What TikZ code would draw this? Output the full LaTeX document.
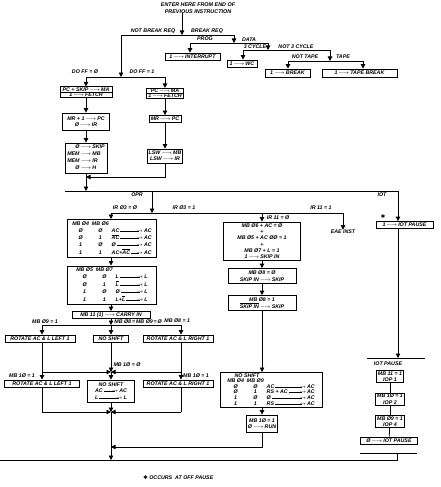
\documentclass[tikz,border=0pt]{standalone}
\usepackage{fontspec}
\setmainfont{Liberation Sans}
\newfontfamily\starfont{DejaVu Sans}
\usetikzlibrary{arrows.meta,shapes.multipart}
\newcommand{\goes}{\,$\longrightarrow$\,}
\newcommand{\arrfill}{\hskip1pt\leaders\hrule height 1.6pt depth -1.05pt\hfill\kern-3pt$\rightarrow$\hskip1pt}
\newcommand{\tfr}[3][40pt]{\hbox to #1{#2\arrfill#3}}
\newcommand{\nb}[1]{$\overline{\hbox{#1}}$}
\begin{document}
\begin{tikzpicture}[x=1pt,y=-1pt,line width=.8pt,
    blk/.style={draw, inner xsep=1.5pt, inner ysep=.8pt, align=center, font=\fontsize{5.3}{6.3}\selectfont\bfseries\itshape},
    tbl/.style={blk, font=\fontsize{5.3}{7}\selectfont\bfseries\itshape},
    lab/.style={inner sep=0pt, font=\fontsize{5.3}{6.3}\selectfont\bfseries\itshape},
    flow/.style={-{Triangle[width=4.5pt,length=4.5pt]}}]
    \useasboundingbox (0,0) rectangle (440,487);

    \node[lab, align=center, font=\fontsize{5.4}{6.3}\selectfont\bfseries\itshape] (0) at (198,8) {ENTER HERE FROM END OF\\PREVIOUS INSTRUCTION};
    \node[blk, minimum width=55pt, minimum height=7pt] (1) at (192.5,56.5) {1\goes INTERRUPT};
    \node[blk, minimum width=30pt, minimum height=7pt] (2) at (242,63.5) {1\goes WC};
    \node[blk, minimum width=45pt, minimum height=8pt] (3) at (287.5,73) {1\goes BREAK};
    \node[blk, minimum width=75pt, minimum height=8pt] (4) at (359.5,73) {1\goes TAPE BREAK};
    \node[blk, rectangle split, rectangle split parts=2, inner ysep=.3pt, minimum width=52pt] (5) at (86,92) {PC + SKIP\goes MA\nodepart{two}1\goes FETCH};
    \node[blk, rectangle split, rectangle split parts=2, inner ysep=.3pt, minimum width=32pt] (6) at (165,93.5) {PC\goes MA\nodepart{two}1\goes FETCH};
    \node[blk, minimum width=47pt, minimum height=17pt] (7) at (86,121.5) {MR + 1\goes PC\\Ø\goes IR};
    \node[blk, minimum width=32pt, minimum height=7pt] (8) at (165,119) {MR\goes PC};
    \node[tbl, minimum width=42pt, minimum height=30pt] (9) at (86,158) {\begin{tabular}{@{}r@{}l@{}}
        Ø\goes & SKIP\\ MEM\goes & MB\\ MEM\goes & IR\\ Ø\goes & H\end{tabular}};
    \node[blk, minimum width=32pt, minimum height=14pt] (10) at (165,156) {LSW\goes MB\\LSW\goes IR};
    \node[blk, minimum width=57pt, minimum height=7pt] (11) at (404.5,225) {1\goes IOT PAUSE};
    \node[tbl, minimum width=89pt, minimum height=37pt] (12) at (112,238.5) {\begin{tabular}{@{}c@{\ \ }c@{\ \ }l@{}}
        MB Ø4 & MB Ø6 & \\
        Ø & Ø & \tfr{AC}{AC}\\
        Ø & 1 & \tfr{\nb{AC}}{AC}\\
        1 & Ø & \tfr{Ø}{AC}\\
        1 & 1 & \tfr{AC+\nb{AC}}{AC}\end{tabular}};
    \node[blk, minimum width=77pt, minimum height=38pt] (13) at (262,241) {MB Ø6 + AC = Ø\\+\\MB Ø5 + AC ØØ = 1\\+\\MB Ø7 + L = 1\\1\goes SKIP IN};
    \node[lab] (14) at (343,232) {EAE INST};
    \node[tbl, minimum width=89pt, minimum height=36pt] (15) at (112,285) {\begin{tabular}{@{}c@{\ \ }c@{\ \ }l@{}}
        MB Ø5 & MB Ø7 & \\
        Ø & Ø & \tfr[32pt]{L}{L}\\
        Ø & 1 & \tfr[32pt]{\nb{L}}{L}\\
        1 & Ø & \tfr[32pt]{Ø}{L}\\
        1 & 1 & \tfr[32pt]{L+\nb{L}}{L}\end{tabular}};
    \node[blk, minimum width=68pt, minimum height=15pt] (16) at (262,276) {MB Ø8 = Ø\\SKIP IN\goes SKIP};
    \node[blk, minimum width=68pt, minimum height=15pt] (17) at (262,303) {MB Ø8 = 1\\\nb{SKIP IN}\goes SKIP};
    \node[blk, minimum width=78pt, minimum height=7pt] (18) at (111,315) {MB 11 (1)\goes CARRY IN};
    \node[blk, minimum width=70pt, minimum height=7pt] (19) at (40,338.5) {ROTATE AC \& L LEFT 1};
    \node[blk, minimum width=35pt, minimum height=7pt] (20) at (111,338.5) {NO SHIFT};
    \node[blk, minimum width=70pt, minimum height=7pt] (21) at (178,338.5) {ROTATE AC \& L RIGHT 1};
    \node[blk, minimum width=75pt, minimum height=7pt] (22) at (42,383.5) {ROTATE AC \& L LEFT 1};
    \node[blk, minimum width=47pt, minimum height=22pt] (23) at (111,391) {NO SHIFT\\\tfr[32pt]{AC}{AC}\\\tfr[32pt]{L}{L}};
    \node[blk, minimum width=70pt, minimum height=7pt] (24) at (178,383.5) {ROTATE AC \& L RIGHT 1};
    \node[blk, font=\fontsize{5.3}{5.6}\selectfont\bfseries\itshape, minimum width=102pt, minimum height=33pt] (25) at (271,390) {\begin{tabular}{@{}c@{\ \ }c@{\ \ }l@{}}
        \multicolumn{2}{c}{NO SHIFT} & \\
        MB Ø4 & MB Ø9 & \\
        Ø & Ø & \tfr[48pt]{AC}{AC}\\
        Ø & 1 & \tfr[48pt]{RS + AC}{AC}\\
        1 & Ø & \tfr[48pt]{Ø}{AC}\\
        1 & 1 & \tfr[48pt]{RS}{AC}\end{tabular}};
    \node[blk, minimum width=28pt, minimum height=17pt] (26) at (262,423.5) {MB 1Ø = 1\\Ø\goes RUN};
    \node[blk, minimum width=25pt, minimum height=12pt] (27) at (390,376.5) {MB 11 = 1\\IOP 1};
    \node[blk, minimum width=25pt, minimum height=12pt] (28) at (390,399) {MB 1Ø = 1\\IOP 2};
    \node[blk, minimum width=25pt, minimum height=12pt] (29) at (390,421.5) {MB Ø9 = 1\\IOP 4};
    \node[blk, minimum width=57pt, minimum height=7pt] (30) at (389,440.5) {Ø\goes IOT PAUSE};
    \node[lab, anchor=west] (31) at (143,478) {{\starfont ✱} OCCURS \ AT OFF PAUSE};

    \node[lab] (40) at (153,31) {NOT BREAK REQ};
    \node[lab] (41) at (207,31) {BREAK REQ};
    \node[lab] (42) at (205,39) {PROG};
    \node[lab] (43) at (249,40) {DATA};
    \node[lab] (44) at (255,46.5) {3 CYCLE};
    \node[lab] (45) at (296,46.5) {NOT 3 CYCLE};
    \node[lab] (46) at (305,57) {NOT TAPE};
    \node[lab] (47) at (343,57) {TAPE};
    \node[lab] (48) at (85,72) {DO FF = Ø};
    \node[lab] (49) at (142,72) {DO FF = 1};
    \node[lab] (50) at (137,195) {OPR};
    \node[lab] (51) at (382,195) {IOT};
    \node[lab] (52) at (383,217) {\starfont ✱};
    \node[lab] (53) at (125,208) {IR Ø3 = Ø};
    \node[lab] (54) at (184,208) {IR Ø3 = 1};
    \node[lab] (55) at (278,218) {IR 11 = Ø};
    \node[lab] (56) at (321,208) {IR 11 = 1};
    \node[lab] (57) at (45,322) {MB Ø9 = 1};
    \node[lab, anchor=west] (58) at (114,322) {MB Ø8\,=\,MB Ø9\,=\,Ø};
    \node[lab, anchor=west] (59) at (164,321) {MB Ø8 = 1};
    \node[lab] (60) at (127,365) {MB 1Ø = Ø};
    \node[lab] (61) at (22,376) {MB 1Ø = 1};
    \node[lab] (62) at (196,376) {MB 1Ø = 1};
    \node[lab] (63) at (388,364) {IOT PAUSE};

    \coordinate (a0) at (182,35);
    \coordinate (a1) at (121,35);
    \coordinate (a2) at (234,35);
    \coordinate (a3) at (121,77);
    \coordinate (b0) at (234,43);
    \coordinate (b1) at (190,43);
    \coordinate (b2) at (268,43);
    \coordinate (c0) at (268,50);
    \coordinate (c1) at (243,50);
    \coordinate (c2) at (330,50);
    \coordinate (d0) at (330,61);
    \coordinate (d1) at (288,61);
    \coordinate (d2) at (363,61);
    \coordinate (e1) at (86,77);
    \coordinate (e2) at (165,77);
    \coordinate (f0) at (86,177);
    \coordinate (g1) at (65,191);
    \coordinate (g0) at (152,191);
    \coordinate (g2) at (398,191);
    \coordinate (h0) at (152,213);
    \coordinate (h1) at (111,213);
    \coordinate (h3) at (262,213);
    \coordinate (h2) at (343,213);
    \coordinate (k0) at (111,325);
    \coordinate (k1) at (42,325);
    \coordinate (k2) at (181,325);
    \coordinate (m0) at (111,372);
    \coordinate (m1) at (42,372);
    \coordinate (m2) at (181,372);
    \coordinate (n0) at (111,412);
    \coordinate (n1) at (42,412);
    \coordinate (n2) at (181,412);
    \coordinate (p0) at (111,447);
    \coordinate (q0) at (111,460);
    \coordinate (q1) at (0,460);
    \coordinate (q2) at (397,460);
    \coordinate (r0) at (398,358);
    \coordinate (r1) at (367,358);
    \coordinate (r2) at (425,358);
    \coordinate (s0) at (397,453);
    \coordinate (s1) at (360,453);
    \coordinate (s2) at (417,453);

    \draw[flow] (0.south -| a0) -- (a0);
    \draw (a1) -- (a2);
    \draw[flow] (a1) -- (a3);
    \draw[flow] (a2) -- (b0);
    \draw (b1) -- (b2);
    \draw[flow] (b1) -- (b1 |- 1.north);
    \draw[flow] (b2) -- (c0);
    \draw (c1) -- (c2);
    \draw[flow] (c1) -- (c1 |- 2.north);
    \draw[flow] (c2) -- (d0);
    \draw (d1) -- (d2);
    \draw[flow] (d1) -- (d1 |- 3.north);
    \draw[flow] (d2) -- (d2 |- 4.north);
    \draw (e1) -- (e2);
    \draw[flow] (e1) -- (5);
    \draw[flow] (e2) -- (6);
    \draw[flow] (5) -- (7);
    \draw[flow] (7) -- (9);
    \draw[flow] (6) -- (8);
    \draw[flow] (8) -- (10);
    \draw[flow] (10) |- (f0);
    \draw[flow] (9) -- (9 |- g1);
    \draw (g1) -- (g2);
    \draw[flow] (g2) -- (g2 |- 11.north);
    \draw[flow] (g0) -- (h0);
    \draw (h1) -- (h2);
    \draw[flow] (h1) -- (h1 |- 12.north);
    \draw[flow] (h3) -- (13);
    \draw[flow] (h2) -- (14);
    \draw[flow] (h1 |- 12.south) -- (h1 |- 15.north);
    \draw[flow] (h1 |- 15.south) -- (18);
    \draw[flow] (18) -- (k0);
    \draw (k1) -- (k2);
    \draw[flow] (k1) -- (k1 |- 19.north);
    \draw[flow] (k0) -- (20);
    \draw[flow] (k2) -- (k2 |- 21.north);
    \draw (19.south -| k1) -- (m1);
    \draw (21.south -| k2) -- (m2);
    \draw[flow] (m1) -- (m0);
    \draw[flow] (m2) -- (m0);
    \draw[flow] (20) -- (m0);
    \draw[flow] (m1) -- (m1 |- 22.north);
    \draw[flow] (m2) -- (m2 |- 24.north);
    \draw[flow] (m0) -- (23);
    \draw (22.south -| n1) -- (n1);
    \draw (24.south -| n2) -- (n2);
    \draw[flow] (n1) -- (n0);
    \draw[flow] (n2) -- (n0);
    \draw[flow] (23) -- (n0);
    \draw[flow] (n0) -- (q0);
    \draw[flow] (13) -- (16);
    \draw[flow] (16) -- (17);
    \draw[flow] (17) -- (17 |- 25.north);
    \draw[flow] (25.south -| 17) -- (26);
    \draw[flow] (26) |- (p0);
    \draw (q1) -- (q2) -- (s0);
    \draw (s1) -- (s2);
    \draw[flow] (11.south -| r0) -- (r0);
    \draw (r1) -- (r2);
    \draw (27) -- (28);
    \draw (28) -- (29);
    \draw (29) -- (30);
\end{tikzpicture}
\end{document}
